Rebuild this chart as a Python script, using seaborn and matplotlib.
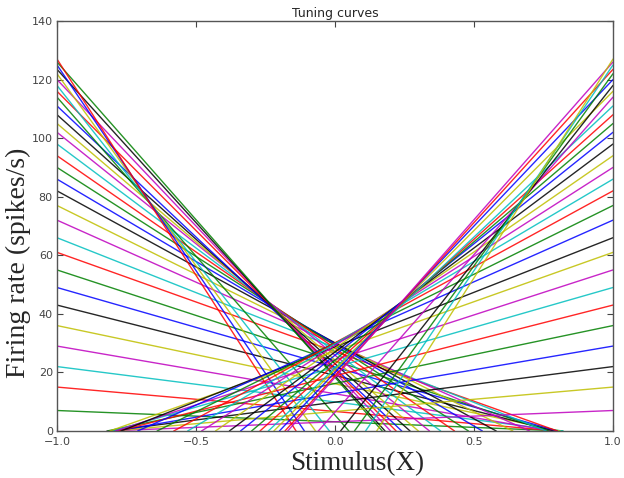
import pandas as pd
import matplotlib
matplotlib.use('Agg')
import matplotlib.pyplot as plt
import seaborn as sns

# rate at the edge of the stimulus range (x=-1 for falling curves, x=+1 for rising ones)
edge_rates = [7, 15, 22, 29, 36, 43, 49, 55, 61, 66,
              72, 77, 82, 86, 90, 94, 98, 102, 105, 108,
              111, 114, 116, 118, 120, 122, 123.5, 125, 126, 127]

# x where falling curves reach zero
fall_zero = [0.82, 0.80, 0.82, 0.78, 0.81, 0.79, 0.80, 0.77, 0.80, 0.76,
             0.70, 0.64, 0.58, 0.53, 0.48, 0.43, 0.38, 0.34, 0.30, 0.27,
             0.24, 0.05, 0.22, -0.02, 0.20, -0.07, 0.18, -0.11, 0.17, -0.14]

# x where rising curves leave zero
rise_zero = [-0.82, -0.80, -0.81, -0.79, -0.82, -0.78, -0.80, -0.79, -0.81, -0.77,
             -0.71, -0.64, -0.58, -0.53, -0.48, -0.43, -0.38, -0.34, -0.30, -0.27,
             -0.24, -0.06, -0.22, 0.02, -0.20, 0.07, -0.18, 0.11, -0.17, 0.15]

# classic matplotlib colour cycle
cycle = ['b', 'g', 'r', 'c', 'm', 'y', 'k']

rows = []
colors = []
names = []
# falling block: indices 0..30 (index 0 is a silent neuron)
for i, (r, z) in enumerate(zip(edge_rates, fall_zero), start=1):
    name = f'n{i}'
    rows += [(name, -1.0, r), (name, z, 0.0)]
    names.append(name)
    colors.append(cycle[i % 7])
# rising block: indices 31..61 (index 31 silent)
for i, (r, z) in enumerate(zip(edge_rates, rise_zero), start=32):
    name = f'n{i}'
    rows += [(name, z, 0.0), (name, 1.0, r)]
    names.append(name)
    colors.append(cycle[i % 7])

df = pd.DataFrame(rows, columns=['neuron', 'x', 'rate'])

sns.set_style('white')
plt.rcParams['xtick.direction'] = 'in'
plt.rcParams['ytick.direction'] = 'in'

fig = plt.figure(figsize=(6.24, 4.78), dpi=100)
ax = fig.add_axes([57 / 624, 1 - 431 / 478, 556 / 624, 410 / 478])

sns.lineplot(data=df, x='x', y='rate', hue='neuron', hue_order=names,
             palette=colors, estimator=None, sort=False, legend=False,
             linewidth=1.0, alpha=0.85, ax=ax)

ax.set_xlim(-1, 1)
ax.set_ylim(0, 140)
ax.set_xticks([-1.0, -0.5, 0.0, 0.5, 1.0])
ax.set_yticks(range(0, 141, 20))
ax.tick_params(top=True, right=True, bottom=True, left=True, length=4,
               labelsize=8, colors='#444444')
ax.tick_params(axis='x', pad=4)
ax.tick_params(axis='y', pad=3)
for s in ax.spines.values():
    s.set_color('#555555')
    s.set_linewidth(1.0)

ax.set_title('Tuning curves', fontsize=9, pad=3)
ax.set_xlabel('Stimulus(X)', family='Liberation Serif', fontsize=19.5)
ax.set_ylabel('Firing rate (spikes/s)', family='Liberation Serif', fontsize=20)
ax.xaxis.set_label_coords(0.54, -0.05)
ax.yaxis.set_label_coords(-0.047, 0.41)

fig.savefig('out.png', dpi=100)
